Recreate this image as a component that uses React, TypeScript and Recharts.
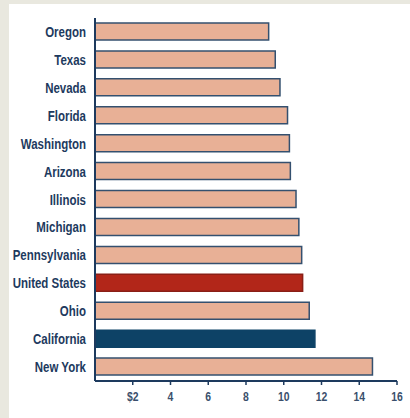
import { BarChart, Bar, XAxis, YAxis, Cell } from "recharts";

const states = [
  "Oregon",
  "Texas",
  "Nevada",
  "Florida",
  "Washington",
  "Arizona",
  "Illinois",
  "Michigan",
  "Pennsylvania",
  "United States",
  "Ohio",
  "California",
  "New York",
];
const values = [9.2, 9.55, 9.8, 10.2, 10.3, 10.35, 10.65, 10.8, 10.95, 11.0, 11.35, 11.65, 14.7];
const xTicks = [2, 4, 6, 8, 10, 12, 14, 16];

const data = states.map((name, i) => ({ name, value: values[i] }));

const NAVY = "#1d3a5e";
const fillFor = (name: string) =>
  name === "United States" ? "#b22619" : name === "California" ? "#0d4266" : "#e8b096";
const strokeFor = (name: string) =>
  name === "United States" ? "#8a1f16" : name === "California" ? "#0d4266" : "#34506f";

const font = "'Liberation Sans', Arial, sans-serif";

// condensed look: squeeze the text horizontally around its anchor
function StateTick(props: any) {
  const { x, y, payload } = props;
  return (
    <g transform={`translate(${x},${y})`}>
      <text
        transform="scale(0.82,1)"
        textAnchor="end"
        dy="0.36em"
        fill={NAVY}
        fontSize={14}
        fontWeight={700}
        fontFamily={font}
      >
        {payload.value}
      </text>
    </g>
  );
}

function ValueTick(props: any) {
  const { x, y, payload } = props;
  const label = payload.value === 2 ? "$2" : String(payload.value);
  return (
    <g transform={`translate(${x},${y})`}>
      <text
        transform="scale(0.8,1)"
        textAnchor="middle"
        dy="0.95em"
        fill="#3a4f6c"
        fontSize={13}
        fontWeight={700}
        fontFamily={font}
      >
        {label}
      </text>
    </g>
  );
}

export default function App() {
  return (
    <div
      style={{
        position: "absolute",
        left: 0,
        top: 0,
        width: 410,
        height: 418,
        background: "#e9e8df",
      }}
    >
      <div
        style={{
          position: "absolute",
          left: 9,
          top: 4,
          width: 401,
          height: 414,
          background: "#ffffff",
        }}
      >
        <BarChart
          width={401}
          height={414}
          data={data}
          layout="vertical"
          margin={{ top: 14, right: 13, bottom: 7, left: 0 }}
          barSize={17}
        >
          <XAxis
            type="number"
            domain={[0, 16]}
            ticks={xTicks}
            axisLine={{ stroke: NAVY, strokeWidth: 2 }}
            tickLine={{ stroke: NAVY, strokeWidth: 1.5 }}
            tickSize={4}
            tickMargin={4}
            height={30}
            tick={<ValueTick />}
          />
          <YAxis
            type="category"
            dataKey="name"
            width={86}
            axisLine={{ stroke: NAVY, strokeWidth: 2 }}
            tickLine={false}
            tickMargin={3}
            interval={0}
            tick={<StateTick />}
          />
          <Bar dataKey="value" isAnimationActive={false} strokeWidth={1.5}>
            {data.map((d) => (
              <Cell key={d.name} fill={fillFor(d.name)} stroke={strokeFor(d.name)} />
            ))}
          </Bar>
        </BarChart>
      </div>
    </div>
  );
}
